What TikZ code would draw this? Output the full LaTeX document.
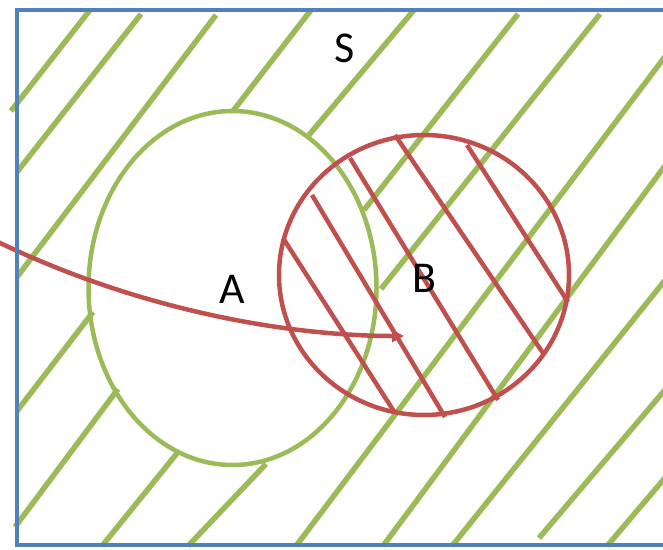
\documentclass[tikz,border=0pt]{standalone}
\usepackage{fontspec}
\setmainfont{Carlito}
\usepackage{tikz}
\usetikzlibrary{arrows.meta}
\definecolor{setS}{RGB}{79,129,189}
\definecolor{setA}{RGB}{155,187,89}
\definecolor{setB}{RGB}{192,80,77}
\tikzset{
  hatchA/.style={setA,line width=5.5pt},
  hatchB/.style={setB,line width=4.5pt},
  setlabel/.style={font=\fontsize{44}{44}\selectfont,inner sep=0pt}
}

\begin{document}
\begin{tikzpicture}[x=1pt,y=-1pt]
\useasboundingbox (0,0) rectangle (663,549);
\clip (0,0) rectangle (663,549);
\def\Agreen{
11/111/90/10, 17/172/141/14, 17/277/216/15,
233/111/311/10, 309/135/414/10, 364/210/518/14,
381/289/600/14, 296/546/670/50, 383/546/670/159,
452/546/670/274, 539/538/670/384, 607/546/670/472,
17/411/93/312, 15/527/118/389, 102/546/178/452,
188/546/266/464}
\def\Bred{
283/238/395/413, 312/195/445/417, 350/158/498/400,
395/135/543/353, 467/145/568/302}
% Draw green hatching first (outside A)
\foreach \xa/\ya/\xb/\yb in \Agreen {
\draw[hatchA] (\xa,\ya) -- (\xb,\yb);
}
% the sets
\draw[setA,line width=4.5pt] (232.5,288) ellipse [x radius=144pt,y radius=177pt];
\draw[setB,line width=4.5pt] (424,275) ellipse [x radius=145pt,y radius=140pt];
% red hatching in B
\foreach \xa/\ya/\xb/\yb in \Bred {
\draw[hatchB] (\xa,\ya) -- (\xb,\yb);
}
% labels
\node[setlabel] (S) at (344.5,48) {S};
\node[setlabel] (A) at (232.5,289) {A};
\node[setlabel] (B) at (424,278) {B};
% arrow
\coordinate (tail) at (-2,242);
\coordinate (head) at (404,336);
\draw[setB,line width=4.5pt,-{Triangle[length=12pt,width=12pt]}] (tail) .. controls (150,315) and (300,336) .. (head);
% sample space box
\draw[setS,line width=4.5pt] (17,10) rectangle (690,545);
\end{tikzpicture}
\end{document}
